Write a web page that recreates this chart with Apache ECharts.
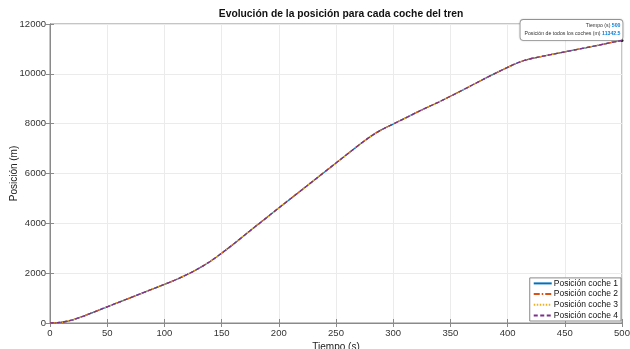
<!DOCTYPE html>
<html>
<head>
<meta charset="utf-8">
<script src="https://cdn.jsdelivr.net/npm/echarts@6/dist/echarts.min.js"></script>
<style>
html,body{margin:0;padding:0;background:#fff;}
#c{width:630px;height:349px;}
</style>
</head>
<body>
<div id="c"></div>
<script>
const tiempo = [0,5,10,15,20,25,30,35,40,50,60,70,80,90,100,105,110,115,120,125,130,135,140,145,150,155,160,170,180,190,200,210,220,230,240,250,260,270,275,280,285,290,295,300,310,320,330,340,350,360,370,380,390,400,405,410,415,420,425,430,440,450,460,470,480,490,500];
const posicion = [0,8,30,70,130,205,290,380,470,650,830,1010,1190,1370,1550,1640,1735,1840,1950,2065,2190,2325,2470,2630,2800,2975,3155,3520,3890,4250,4620,4980,5340,5700,6060,6420,6780,7140,7315,7480,7630,7760,7875,7985,8210,8440,8660,8870,9100,9330,9570,9810,10040,10260,10370,10465,10545,10605,10655,10700,10795,10885,10975,11065,11155,11250,11342.5];
const seriesNames = ['Posición coche 1','Posición coche 2','Posición coche 3','Posición coche 4'];
const coche1 = posicion.slice();
const coche2 = posicion.slice();
const coche3 = posicion.slice();
const coche4 = posicion.slice();
const xTicks = [0,500,50];
const yTicks = [0,12000,2000];
const tipTiempo = 500;
const tipPos = 11342.5;

const colors = ['#0072BD','#D95319','#EDB120','#7E2F8E'];
const styles = ['solid',[6,2,1.5,2],[1.5,1.5],[4,2.5]];
const allData = [coche1,coche2,coche3,coche4];

const chart = echarts.init(document.getElementById('c'));
const font = 'Liberation Sans, Arial, Helvetica, sans-serif';
const axisColor = '#8a8a8a';
const labelColor = '#333';

const series = allData.map((d,i)=>({
  name: seriesNames[i],
  type: 'line',
  data: tiempo.map((t,j)=>[t,d[j]]),
  symbol: 'none',
  showSymbol: false,
  lineStyle: {color: colors[i], width: 1.3, type: styles[i]},
  itemStyle: {color: colors[i]},
  z: 2+i,
  animation: false
}));
series[3].markPoint = {
  symbol: 'circle',
  symbolSize: 3,
  itemStyle: {color: '#222'},
  data: [{coord: [tipTiempo, tipPos], value: tipPos}],
  label: {
    show: true,
    position: [2, 1],
    align: 'right',
    verticalAlign: 'bottom',
    backgroundColor: '#fff',
    borderColor: '#9a9a9a',
    borderWidth: 0.8,
    borderRadius: 3,
    padding: [2,2,2,4],
    fontFamily: font,
    fontSize: 5.2,
    color: '#333',
    lineHeight: 8,
    shadowColor: 'rgba(0,0,0,0.2)',
    shadowBlur: 2,
    formatter: () => '{a|Tiempo (s)} {b|' + tipTiempo + '}\n{a|Posición de todos los coches (m)} {b|' + tipPos + '}',
    rich: {
      a: {fontSize: 5.2, color: '#333', fontFamily: font, align: 'right'},
      b: {fontSize: 5.2, color: '#0a7fd6', fontWeight: 'bold', fontFamily: font, align: 'right'}
    }
  }
};

chart.setOption({
  animation: false,
  backgroundColor: '#fff',
  title: {
    text: 'Evolución de la posición para cada coche del tren',
    left: 336, top: 4, textAlign: 'center',
    textStyle: {fontFamily: font, fontSize: 10.3, fontWeight: 'bold', color: '#111'}
  },
  grid: {left: 50, right: 8, top: 24, bottom: 26, show: true, borderColor: axisColor, borderWidth: 1, backgroundColor: '#fff', containLabel: false, outerBoundsMode: 'none'},
  legend: {
    data: seriesNames,
    orient: 'vertical',
    right: 9, bottom: 28,
    backgroundColor: '#fff',
    borderColor: '#8a8a8a',
    borderWidth: 1,
    padding: [1,3,1,3],
    itemGap: 1.7,
    itemWidth: 18,
    itemHeight: 10,
    itemStyle: {color: 'transparent', borderWidth: 0, opacity: 0},
    textStyle: {fontFamily: font, fontSize: 8.5, color: '#111', padding: [0,0,0,-3]}
  },
  xAxis: [{
    type: 'value', min: xTicks[0], max: xTicks[1], interval: xTicks[2],
    name: 'Tiempo (s)', nameLocation: 'middle', nameGap: 19, nameMoveOverlap: false,
    nameTextStyle: {fontFamily: font, fontSize: 10, color: '#222'},
    axisLine: {show: true, onZero: false, lineStyle: {color: axisColor}},
    axisTick: {show: true, inside: true, length: 4, lineStyle: {color: axisColor}},
    axisLabel: {fontFamily: font, fontSize: 9.5, color: labelColor, margin: 5},
    splitLine: {show: true, lineStyle: {color: '#ebebeb', width: 1}}
  },{
    type: 'value', position: 'top', min: xTicks[0], max: xTicks[1], interval: xTicks[2],
    axisLine: {show: true, lineStyle: {color: axisColor}},
    axisTick: {show: true, inside: true, length: 4, lineStyle: {color: axisColor}},
    axisLabel: {show: false}, splitLine: {show: false}
  }],
  yAxis: [{
    type: 'value', min: yTicks[0], max: yTicks[1], interval: yTicks[2],
    name: 'Posición (m)', nameLocation: 'middle', nameGap: 31, nameMoveOverlap: false,
    nameTextStyle: {fontFamily: font, fontSize: 10, color: '#222'},
    axisLine: {show: true, lineStyle: {color: axisColor}},
    axisTick: {show: true, inside: true, length: 4, lineStyle: {color: axisColor}},
    axisLabel: {fontFamily: font, fontSize: 9.5, color: labelColor, margin: 4, formatter: v => String(v)},
    splitLine: {show: true, lineStyle: {color: '#ebebeb', width: 1}}
  },{
    type: 'value', position: 'right', min: yTicks[0], max: yTicks[1], interval: yTicks[2],
    axisLine: {show: true, lineStyle: {color: axisColor}},
    axisTick: {show: true, inside: true, length: 4, lineStyle: {color: axisColor}},
    axisLabel: {show: false}, splitLine: {show: false}
  }],
  series: series
});
</script>
</body>
</html>
